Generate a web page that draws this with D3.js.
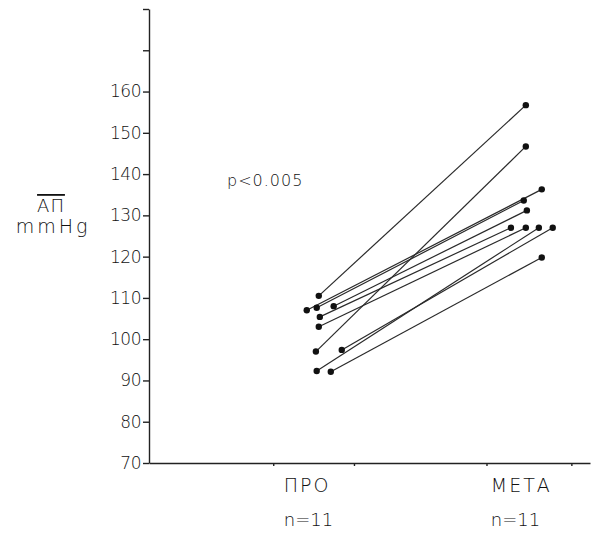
<!DOCTYPE html>
<html>
<head>
<meta charset="utf-8">
<script src="https://cdn.jsdelivr.net/npm/d3@7"></script>
<style>
    body { margin: 0; background: #fff; }
    text { font-family: "DejaVu Sans", sans-serif; fill: #111; }
</style>
</head>
<body>
<div id="chart"></div>
<script>
// phases and group sizes
const phases = ["ΠΡΟ", "ΜΕΤΑ"];
const groupN = ["n=11", "n=11"];

// mean arterial pressure (mmHg) per subject, before / after
const preValues  = [110.5, 107, 107.6, 108, 105.4, 103, 97, 97.4, 92.3, 92.1];
const postValues = [156.7, 136.3, 133.6, 131.2, 127, 127, 146.7, 127, 127, 119.8];

// horizontal spread of the dots around each phase (phase units)
const preJitter  = [0, -0.058, -0.01, 0.072, 0.005, 0, -0.014, 0.111, -0.01, 0.058];
const postJitter = [0, 0.077, -0.01, 0.005, -0.072, 0, 0, 0.13, 0.063, 0.077];

const yTicks = [70, 80, 90, 100, 110, 120, 130, 140, 150, 160, 170, 180];
const xMarks = [-0.22, 0.17, 0.81, 1.22];

const width = 601;
const height = 536;
const plotLeft = 149, plotRight = 590, plotTop = 9, plotBottom = 463;

const svg = d3.select("#chart")
    .append("svg")
    .attr("width", width)
    .attr("height", height);

const x = d3.scaleLinear()
    .domain([-0.82, 1.31])
    .range([plotLeft, plotRight]);

const y = d3.scaleLinear()
    .domain([70, 180])
    .range([plotBottom, plotTop]);

// y axis
const yAxis = svg.append("g")
    .attr("transform", `translate(${plotLeft},0)`)
    .call(d3.axisLeft(y)
        .tickValues(yTicks)
        .tickSize(6)
        .tickSizeOuter(0)
        .tickPadding(2)
        .tickFormat(d => d <= 160 ? d : ""));

yAxis.selectAll("text")
    .attr("font-size", 17)
    .attr("font-weight", 200)
    .attr("letter-spacing", -0.5)
    .style("font-family", "DejaVu Sans")
    .attr("fill", "#111");
yAxis.selectAll("line, path").attr("stroke", "#222").attr("stroke-width", 1.4);

// x axis
const xAxis = svg.append("g")
    .attr("transform", `translate(0,${plotBottom})`)
    .call(d3.axisBottom(x)
        .tickValues(xMarks)
        .tickSize(3)
        .tickSizeOuter(0)
        .tickFormat(""));
xAxis.selectAll("line, path").attr("stroke", "#222").attr("stroke-width", 1.4);

// pairs
const pairs = preValues.map((v, i) => ({
    pre: v,
    post: postValues[i],
    x0: preJitter[i],
    x1: 1 + postJitter[i]
}));

svg.selectAll("line.pair")
    .data(pairs)
    .enter()
    .append("line")
    .attr("class", "pair")
    .attr("x1", d => x(d.x0))
    .attr("y1", d => y(d.pre))
    .attr("x2", d => x(d.x1))
    .attr("y2", d => y(d.post))
    .attr("stroke", "#2a2a2a")
    .attr("stroke-width", 1.2);

svg.selectAll("circle.pre")
    .data(pairs)
    .enter()
    .append("circle")
    .attr("class", "pre")
    .attr("cx", d => x(d.x0))
    .attr("cy", d => y(d.pre))
    .attr("r", 3.2)
    .attr("fill", "#111");

svg.selectAll("circle.post")
    .data(pairs)
    .enter()
    .append("circle")
    .attr("class", "post")
    .attr("cx", d => x(d.x1))
    .attr("cy", d => y(d.post))
    .attr("r", 3.2)
    .attr("fill", "#111");

// phase labels
svg.selectAll("text.phase")
    .data(phases)
    .enter()
    .append("text")
    .attr("class", "phase")
    .attr("x", (_, i) => x(i) - 35)
    .attr("y", plotBottom + 29)
    .attr("font-size", 19)
    .attr("font-weight", 200)
    .attr("letter-spacing", 2)
    .text(d => d);

svg.selectAll("text.n")
    .data(groupN)
    .enter()
    .append("text")
    .attr("class", "n")
    .attr("x", (_, i) => x(i) - 35)
    .attr("y", plotBottom + 63)
    .attr("font-size", 18)
    .attr("font-weight", 200)
    .attr("letter-spacing", 0)
    .text(d => d);

// y label
svg.append("text")
    .attr("x", 51)
    .attr("y", 212)
    .attr("text-anchor", "middle")
    .attr("font-size", 18)
    .attr("font-weight", 200)
    .attr("letter-spacing", 1)
    .style("text-decoration", "overline")
    .text("ΑΠ");

svg.append("text")
    .attr("x", 53)
    .attr("y", 233)
    .attr("text-anchor", "middle")
    .attr("font-size", 19)
    .attr("font-weight", 200)
    .attr("letter-spacing", 3)
    .text("mmHg");

// significance
svg.append("text")
    .attr("x", 227)
    .attr("y", 186)
    .attr("font-size", 16)
    .attr("font-weight", 200)
    .attr("letter-spacing", 1)
    .text("p<0.005");
</script>
</body>
</html>
